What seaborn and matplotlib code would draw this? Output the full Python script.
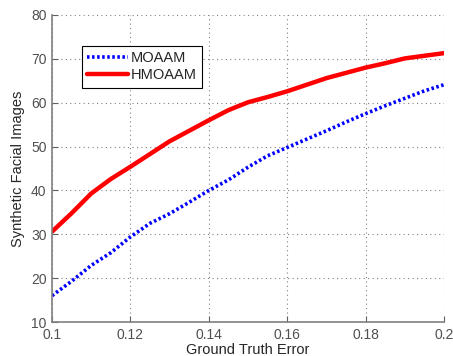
import matplotlib
matplotlib.use("Agg")
import matplotlib.pyplot as plt
from matplotlib.lines import Line2D
import seaborn as sns
import pandas as pd

# values
ground_truth_error = [0.100, 0.105, 0.110, 0.115, 0.120, 0.125, 0.130, 0.135, 0.140, 0.145, 0.150,
                      0.155, 0.160, 0.165, 0.170, 0.175, 0.180, 0.185, 0.190, 0.195, 0.200]
moaam = [16.0, 19.3, 22.9, 25.8, 29.4, 32.5, 34.7, 37.3, 40.0, 42.4, 45.3,
         47.9, 49.8, 51.7, 53.6, 55.6, 57.5, 59.3, 61.0, 62.7, 64.1]
hmoaam = [30.6, 34.8, 39.3, 42.6, 45.4, 48.3, 51.2, 53.6, 56.0, 58.3, 60.1,
          61.3, 62.6, 64.1, 65.6, 66.8, 68.0, 69.0, 70.1, 70.7, 71.3]

x_ticks = [0.1, 0.12, 0.14, 0.16, 0.18, 0.2]
x_tick_labels = ["0.1", "0.12", "0.14", "0.16", "0.18", "0.2"]
y_ticks = [10, 20, 30, 40, 50, 60, 70, 80]

df = pd.DataFrame({
    "err": ground_truth_error * 2,
    "val": moaam + hmoaam,
    "method": ["MOAAM"] * len(moaam) + ["HMOAAM"] * len(hmoaam),
})

sns.set_style("white")
plt.rcParams["font.family"] = ["Liberation Sans", "DejaVu Sans"]

fig = plt.figure(figsize=(4.53, 3.56), dpi=100)
ax = fig.add_axes([0.1148, 0.0955, 0.8653, 0.8624])

blue_dash = (0.7, 0.7)
sns.lineplot(data=df, x="err", y="val", hue="method", style="method",
             palette={"MOAAM": "#0000ff", "HMOAAM": "#ff0000"},
             dashes={"MOAAM": blue_dash, "HMOAAM": ""},
             ax=ax, legend=False)
ax.lines[0].set_linewidth(2.6)
ax.lines[1].set_linewidth(3.2)

ax.set_xlim(0.1, 0.2)
ax.set_ylim(10, 80)
ax.set_xticks(x_ticks)
ax.set_xticklabels(x_tick_labels)
ax.set_yticks(y_ticks)
ax.grid(True, linestyle=(0, (1, 3)), color="#808080", linewidth=0.8)
ax.tick_params(direction="in", length=4, color="#606060", labelsize=10,
               labelcolor="#505050", pad=4, bottom=True, left=True)
for side in ["top", "right"]:
    ax.spines[side].set_visible(False)
for side in ["left", "bottom"]:
    ax.spines[side].set_color("#808080")
    ax.spines[side].set_linewidth(1.2)

ax.set_xlabel("Ground Truth Error", fontsize=10.5, labelpad=1)
ax.set_ylabel("Synthetic Facial Images", fontsize=10.5, labelpad=4)

handles = [Line2D([], [], color="#0000ff", lw=2.6, dashes=blue_dash),
           Line2D([], [], color="#ff0000", lw=3.2)]
leg = ax.legend(handles, ["MOAAM", "HMOAAM"], loc="upper left",
                bbox_to_anchor=(0.077, 0.9), borderaxespad=0, fontsize=10.5,
                fancybox=False, framealpha=1, edgecolor="black",
                handlelength=2.8, handletextpad=0.2, borderpad=0.35,
                labelspacing=0.25)
leg.get_frame().set_linewidth(0.8)

fig.savefig("out.png", dpi=100)
